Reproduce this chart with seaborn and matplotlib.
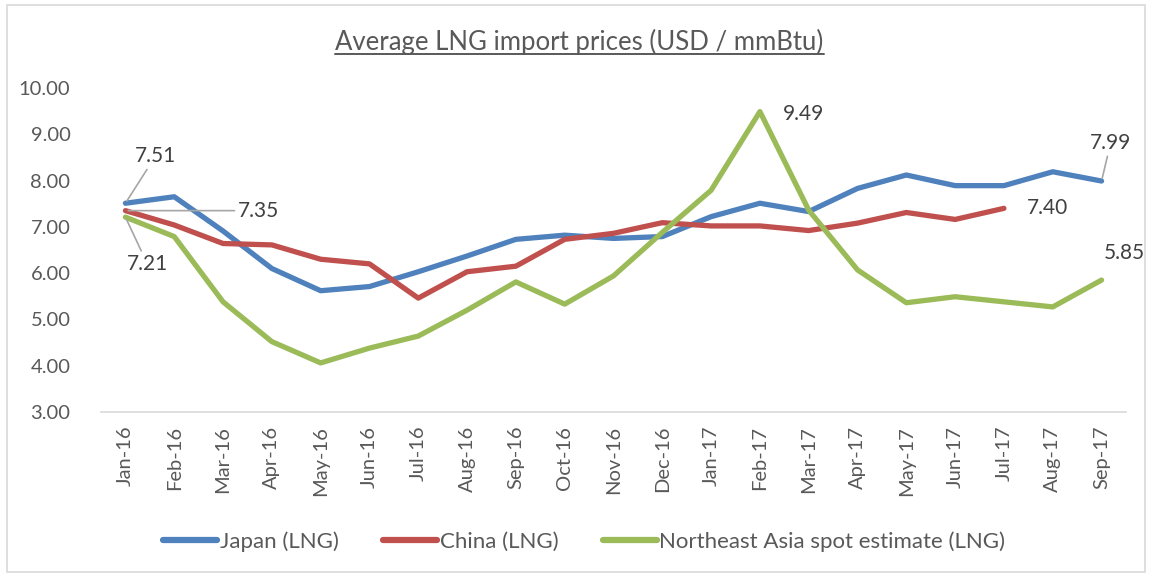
import pandas as pd
import seaborn as sns
import matplotlib.pyplot as plt
from matplotlib.lines import Line2D
from matplotlib.patches import Rectangle

sns.set_style('white')
plt.rcParams['font.family'] = ['Lato', 'DejaVu Sans']

months = ['Jan-16', 'Feb-16', 'Mar-16', 'Apr-16', 'May-16', 'Jun-16', 'Jul-16',
          'Aug-16', 'Sep-16', 'Oct-16', 'Nov-16', 'Dec-16', 'Jan-17', 'Feb-17',
          'Mar-17', 'Apr-17', 'May-17', 'Jun-17', 'Jul-17', 'Aug-17', 'Sep-17']
japan = [7.51, 7.65, 6.91, 6.10, 5.62, 5.71, 6.03, 6.37, 6.73, 6.82, 6.75,
         6.79, 7.22, 7.51, 7.33, 7.83, 8.12, 7.89, 7.89, 8.19, 7.99]
china = [7.35, 7.04, 6.64, 6.61, 6.30, 6.20, 5.46, 6.03, 6.15, 6.73, 6.86,
         7.09, 7.02, 7.02, 6.92, 7.08, 7.31, 7.16, 7.40]
ne_asia = [7.21, 6.79, 5.38, 4.52, 4.06, 4.38, 4.64, 5.20, 5.81, 5.33, 5.94,
           6.88, 7.79, 9.49, 7.36, 6.07, 5.36, 5.49, 5.38, 5.27, 5.85]

names = ['Japan (LNG)', 'China (LNG)', 'Northeast Asia spot estimate (LNG)']
colors = ['#4F81BD', '#C0504D', '#9BBB59']

frames = []
for name, vals in zip(names, [japan, china, ne_asia]):
    frames.append(pd.DataFrame({'month': range(len(vals)), 'price': vals, 'series': name}))
df = pd.concat(frames, ignore_index=True)

fig = plt.figure(figsize=(11.52, 5.77), dpi=100)
ax = fig.add_axes([0.0877, 0.286, 0.8897, 0.5615])
sns.lineplot(data=df, x='month', y='price', hue='series', palette=colors,
             linewidth=3.8, ax=ax, legend=False)

txt = '#595959'
ax.set_xlim(-0.5, len(months) - 0.5)
ax.set_ylim(3, 10)
ax.set_yticks(range(3, 11))
ax.set_yticklabels([f'{v:.2f}' for v in range(3, 11)], fontsize=14.5, color=txt)
ax.set_xticks(range(len(months)))
ax.set_xticklabels(months, rotation=90, fontsize=14.5, color=txt)
ax.set_xticks([i - 0.5 for i in range(len(months) + 1)], minor=True)
ax.tick_params(axis='x', which='major', length=0, pad=10)
ax.tick_params(axis='x', which='minor', length=6, color='#D9D9D9', width=1.2)
ax.tick_params(axis='y', length=0, pad=22)
ax.set_xlabel('')
ax.set_ylabel('')
for s in ['top', 'right', 'left']:
    ax.spines[s].set_visible(False)
ax.spines['bottom'].set_color('#D9D9D9')
ax.spines['bottom'].set_linewidth(1.2)

# data labels
lead = dict(arrowstyle='-', color='#A6A6A6', lw=1.2, shrinkA=0, shrinkB=2)
labels = [
    (0, japan[0], (30, 47), True),
    (0, china[0], (133, 0), True),
    (0, ne_asia[0], (22, -47), True),
    (13, ne_asia[13], (44, -2), False),
    (20, japan[20], (9, 38), True),
    (18, china[18], (44, 0), False),
    (20, ne_asia[20], (23, 27), False),
]
for x, y, off, has_line in labels:
    ax.annotate(f'{y:.2f}', xy=(x, y), xytext=off, textcoords='offset pixels',
                ha='center', va='center', fontsize=15, color='#404040',
                arrowprops=lead if has_line else None, annotation_clip=False)

handles = [Line2D([], [], color=c, lw=4.5) for c in colors]
fig.legend(handles, names, loc='center', bbox_to_anchor=(0.507, 0.062), ncol=3,
           frameon=False, fontsize=16, handlelength=2.45, handletextpad=0.1,
           columnspacing=2.0, labelcolor=txt)

title = fig.text(0.503, 0.927, 'Average LNG import prices (USD / mmBtu)',
                 ha='center', va='center', fontsize=18.5, color=txt,
                 family=['Liberation Sans Narrow', 'Lato', 'DejaVu Sans'])
fig.canvas.draw()
bb = title.get_window_extent().transformed(fig.transFigure.inverted())
fig.add_artist(Line2D([bb.x0, bb.x1], [bb.y0 + 0.002, bb.y0 + 0.002],
                      color=txt, lw=1.4))

fig.add_artist(Rectangle((0.006, 0.008), 0.988, 0.984, fill=False,
                         edgecolor='#D9D9D9', lw=1.2))

fig.savefig('out.png', dpi=100)
